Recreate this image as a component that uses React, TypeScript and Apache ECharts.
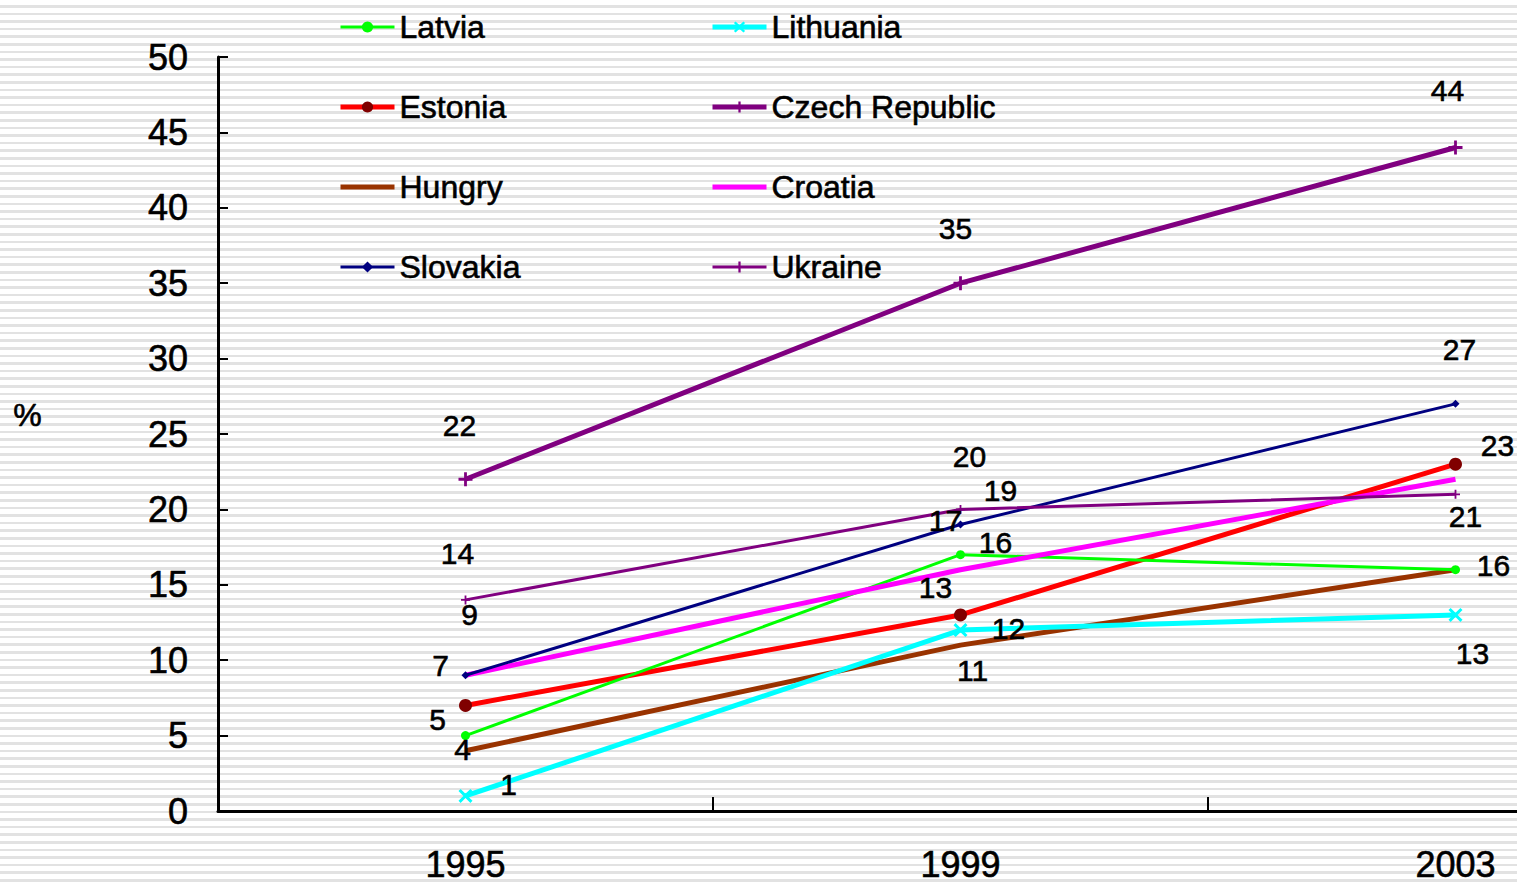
import React, { useEffect, useRef } from "react";
import * as echarts from "echarts";

const years = ["1995", "1999", "2003"];
const latvia = [5, 17, 16];
const lithuania = [1, 12, 13];
const estonia = [7, 13, 23];
const czech = [22, 35, 44];
const hungry = [4, 11, 16];
const croatia = [9, 16, 22];
const slovakia = [9, 19, 27];
const ukraine = [14, 20, 21];
const yTicks = { min: 0, max: 50, interval: 5 };

// label offsets (style only): null = no label
const labelOffsets: Record<string, ([number, number] | null)[]> = {
  Latvia: [[-28, -16], [-15, -34], [38, -4]],
  Lithuania: [[43, -11], [48, -2], [17, 39]],
  Estonia: [[-25, -40], [-25, -27], [42, -19]],
  "Czech Republic": [[-6, -54], [-5, -55], [-8, -57]],
  Hungry: [[-3, -1], [12, 25], null],
  Croatia: [null, [35, -27], null],
  Slovakia: [[4, -61], [40, -34], [4, -54]],
  Ukraine: [[-8, -46], [9, -53], [10, 22]],
};

const FONT = "Arial, 'Liberation Sans', sans-serif";
const plusPath = "path://M4,0h2v4h4v2h-4v4h-2v-4h-4v-2h4z";
const crossPath = "path://M1.5,0L5,3.5L8.5,0L10,1.5L6.5,5L10,8.5L8.5,10L5,6.5L1.5,10L0,8.5L3.5,5L0,1.5z";
const heavy = { textBorderColor: "#000", textBorderWidth: 0.6 };

export default function App() {
  const ref = useRef<HTMLDivElement>(null);
  useEffect(() => {
    if (!ref.current) return;
    const chart = echarts.init(ref.current, undefined, { renderer: "svg" });

    const mk = (
      name: string,
      values: number[],
      lineColor: string,
      width: number,
      symbol: string,
      symbolSize: number,
      symbolColor: string
    ) => ({
      name,
      type: "line",
      data: values.map((v, i) => {
        const off = labelOffsets[name][i];
        return {
          value: v,
          label: off
            ? { show: true, position: "inside", offset: off }
            : { show: false },
        };
      }),
      symbol,
      symbolSize,
      showSymbol: true,
      showAllSymbol: true,
      itemStyle: { color: symbolColor },
      lineStyle: { color: lineColor, width },
      label: {
        show: true,
        color: "#000",
        fontSize: 30,
        fontFamily: FONT,
        ...heavy,
      },
      emphasis: { disabled: true },
    });

    const series = [
      mk("Hungry", hungry, "#993300", 5, "circle", 0.1, "#993300"),
      mk("Lithuania", lithuania, "#00FFFF", 5, crossPath, 14, "#00FFFF"),
      mk("Estonia", estonia, "#FF0000", 5, "circle", 13, "#800000"),
      mk("Latvia", latvia, "#00FF00", 3, "circle", 9, "#00FF00"),
      mk("Croatia", croatia, "#FF00FF", 5, "circle", 0.1, "#FF00FF"),
      mk("Slovakia", slovakia, "#000080", 3, "diamond", 8, "#000080"),
      mk("Ukraine", ukraine, "#800080", 3, plusPath, 9, "#800080"),
      mk("Czech Republic", czech, "#800080", 5, plusPath, 14, "#800080"),
    ];

    const hidden = { color: "rgba(0,0,0,0)", borderWidth: 0 };
    const legendBase = {
      orient: "vertical",
      top: 9,
      padding: 0,
      itemGap: 44,
      itemWidth: 54,
      itemHeight: 14,
      selectedMode: false,
      lineStyle: { width: "inherit" },
      textStyle: {
        fontSize: 32,
        lineHeight: 36,
        color: "#000",
        fontFamily: FONT,
        ...heavy,
      },
    };

    chart.setOption({
      animation: false,
      backgroundColor: "transparent",
      textStyle: { fontFamily: FONT },
      grid: { left: 218, top: 57, width: 1485, height: 754, containLabel: false },
      legend: [
        {
          ...legendBase,
          left: 338,
          data: ["Latvia", "Estonia", { name: "Hungry", itemStyle: hidden }, "Slovakia"],
        },
        {
          ...legendBase,
          left: 710,
          data: ["Lithuania", "Czech Republic", { name: "Croatia", itemStyle: hidden }, "Ukraine"],
        },
      ],
      xAxis: {
        type: "category",
        data: years,
        boundaryGap: true,
        axisLine: { show: true, lineStyle: { color: "#000", width: 3 } },
        axisTick: { show: true, inside: true, length: 14, lineStyle: { color: "#000", width: 2 } },
        axisLabel: { color: "#000", fontSize: 36, margin: 35, fontFamily: FONT, ...heavy },
        splitLine: { show: false },
      },
      yAxis: {
        type: "value",
        min: yTicks.min,
        max: yTicks.max,
        interval: yTicks.interval,
        axisLine: { show: true, lineStyle: { color: "#000", width: 3 } },
        axisTick: { show: true, inside: true, length: 10, lineStyle: { color: "#000", width: 2 } },
        axisLabel: { color: "#000", fontSize: 36, margin: 30, fontFamily: FONT, ...heavy },
        splitLine: { show: false },
      },
      graphic: [
        {
          type: "text",
          left: 13,
          top: 399,
          style: { text: "%", fontSize: 32, fill: "#000", fontFamily: FONT, stroke: "#000", lineWidth: 0.6 },
        },
      ],
      series,
    });
    return () => chart.dispose();
  }, []);

  return (
    <div
      style={{
        position: "absolute",
        left: 0,
        top: 0,
        width: 1517,
        height: 883,
        overflow: "hidden",
        background:
          "repeating-linear-gradient(to bottom, #ffffff 0px, #ffffff 5px, #e2e2e2 5px, #e2e2e2 7.6px)",
      }}
    >
      <div ref={ref} style={{ width: 1800, height: 883 }} />
    </div>
  );
}
